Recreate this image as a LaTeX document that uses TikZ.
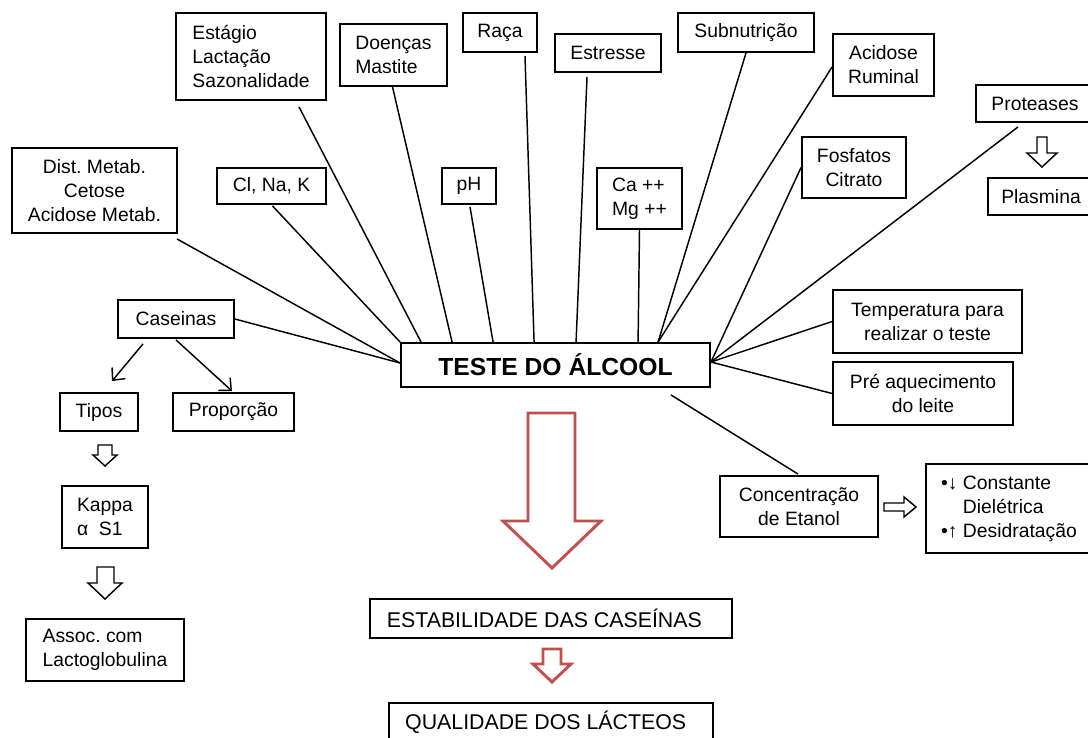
\documentclass[tikz,border=0pt]{standalone}
\usepackage{fontspec}
\setmainfont{Liberation Sans}
\usetikzlibrary{calc,arrows.meta}
\definecolor{redarrow}{RGB}{192,80,77}
\frenchspacing
\begin{document}
\begin{tikzpicture}[x=0.75pt,y=-0.75pt,
  box/.style={draw, line width=1.4pt, inner sep=0pt, align=center,
    font=\fontsize{14.5}{18}\selectfont},
  bl/.style={align=left},
  sz/.style 2 args={minimum width=#1*0.75pt, minimum height=#2*0.75pt},
  conn/.style={line width=1.1pt},
  carrow/.style={line width=1.1pt, -{Straight Barb[length=7pt,width=13pt]}},
  blockarr/.style={draw, line width=1.1pt, fill=white, line join=miter},
  redarr/.style={draw=redarrow, line width=2.2pt, fill=white, line join=miter}]
\useasboundingbox (0,0) rectangle (1088,738);

% nodes
\node[box,bl,sz={150}{87}] (estagio) at (251,56.5) {Estágio\\Lactação\\Sazonalidade};
\node[box,sz={165}{85}] (dist) at (94.5,190.5) {Dist. Metab.\\Cetose\\Acidose Metab.};
\node[box,sz={109}{36}] (cl) at (271.5,186) {Cl, Na, K};
\node[box,bl,sz={107}{62}] (doencas) at (393.5,55) {Doenças\\Mastite};
\node[box,sz={74}{39}] (raca) at (500,32.5) {Raça};
\node[box,sz={106}{38}] (estresse) at (608,53) {Estresse};
\node[box,sz={136}{39}] (subnut) at (746,32.5) {Subnutrição};
\node[box,sz={54}{36}] (ph) at (469,186) {pH};
\node[box,bl,sz={85}{61}] (ca) at (639.5,198.5) {Ca ++\\Mg ++};
\node[box,sz={101}{62}] (acidose) at (883.5,65) {Acidose\\Ruminal};
\node[box,sz={104}{61}] (fosfatos) at (854,167.5) {Fosfatos\\Citrato};
\node[box,sz={118}{37}] (proteases) at (1035,103.5) {Proteases};
\node[box,sz={106}{37}] (plasmina) at (1041,196.5) {Plasmina};
\node[box,sz={116}{38}] (caseinas) at (176,319) {Caseinas};
\node[box,sz={78}{38}] (tipos) at (99,412) {Tipos};
\node[box,sz={121}{38}] (proporcao) at (233.5,412) {Proporção};
\node[box,bl,sz={86}{62}] (kappa) at (105,517) {Kappa\\α\ \ S1};
\node[box,bl,sz={158}{62}] (assoc) at (105,650) {Assoc. com\\Lactoglobulina};
\node[box,sz={309}{44},font=\fontsize{18.5}{22}\selectfont\bfseries] (teste) at (555.5,365) {TESTE DO ÁLCOOL};
\node[box,sz={189}{63}] (temp) at (927.5,321.5) {Temperatura para\\realizar o teste};
\node[box,sz={180}{63}] (pre) at (923,393.5) {Pré aquecimento\\do leite};
\node[box,sz={158}{61}] (conc) at (799,506.5) {Concentração\\de Etanol};
\node[box,bl,sz={166}{89}] (diel) at (1009,508.5) {•↓ Constante\\\hphantom{•↓ }Dielétrica\\•↑ Desidratação};
\node[box,bl,sz={362}{39},font=\fontsize{16}{19}\selectfont] (estab) at (551,618.5) {ESTABILIDADE DAS CASEÍNAS\hspace{10pt}};
\node[box,bl,sz={324}{39},font=\fontsize{16}{19}\selectfont] (qual) at (551,722.5) {QUALIDADE DOS LÁCTEOS\hspace{8pt}};

% connectors to the hub
\draw[conn] ($(dist.south east)+(-1,5)$) -- ($(teste.west)+(0,-2)$);
\draw[conn] (caseinas.east) -- ($(teste.west)+(0,-2)$);
\draw[conn] ($(cl.south)+(1,1)$) -- (teste.north west);
\draw[conn] ($(estagio.south)+(48,6)$) -- ($(teste.north west)+(21,0)$);
\draw[conn] ($(doencas.south)+(-1,0)$) -- ($(teste.north west)+(52,0)$);
\draw[conn] ($(ph.south)+(1,2)$) -- ($(teste.north west)+(93,0)$);
\draw[conn] ($(raca.south)+(25,3)$) -- ($(teste.north west)+(134,0)$);
\draw[conn] ($(estresse.south)+(-21,4)$) -- ($(teste.north west)+(176,0)$);
\draw[conn] (ca.south) -- ($(teste.north west)+(238,0)$);
\draw[conn] (subnut.south) -- ($(teste.north west)+(258,0)$);
\draw[conn] ($(acidose.west)+(0,2)$) -- ($(teste.north west)+(258,0)$);
\draw[conn] (fosfatos.west) -- ($(teste.east)+(0,-3)$);
\draw[conn] ($(proteases.south)+(-17,4)$) -- ($(teste.east)+(0,-3)$);
\draw[conn] (temp.west) -- ($(teste.east)+(0,-3)$);
\draw[conn] (pre.west) -- ($(teste.east)+(0,-3)$);
\draw[conn] ($(conc.north)+(-1,-1)$) -- ($(teste.south east)+(-40,7)$);

% caseinas arrows
\draw[carrow] ($(caseinas.south)+(-33,5)$) -- ($(tipos.north)+(13,-11)$);
\draw[carrow] ($(caseinas.south)+(0,1)$) -- ($(proporcao.north)+(-1.5,-1)$);

% open block arrows
\draw[blockarr] (1037,137) -- (1047,137) -- (1047,153) -- (1057,153) -- (1042,167) -- (1027,153) -- (1037,153) -- cycle;
\draw[blockarr] (98,445) -- (112,445) -- (112,455) -- (117,455) -- (105,466) -- (93,455) -- (98,455) -- cycle;
\draw[blockarr] (97,567) -- (114,567) -- (114,583) -- (122,583) -- (105,599) -- (88,583) -- (97,583) -- cycle;
\draw[blockarr] (884,503) -- (904,503) -- (904,497) -- (916,507) -- (904,517) -- (904,511) -- (884,511) -- cycle;

% red arrows
\draw[redarr] (528,413) -- (575,413) -- (575,521) -- (601,521) -- (552,568) -- (503,521) -- (528,521) -- cycle;
\draw[redarr] (543,649) -- (561,649) -- (561,664) -- (571,664) -- (552,682) -- (533,664) -- (543,664) -- cycle;
\end{tikzpicture}
\end{document}
